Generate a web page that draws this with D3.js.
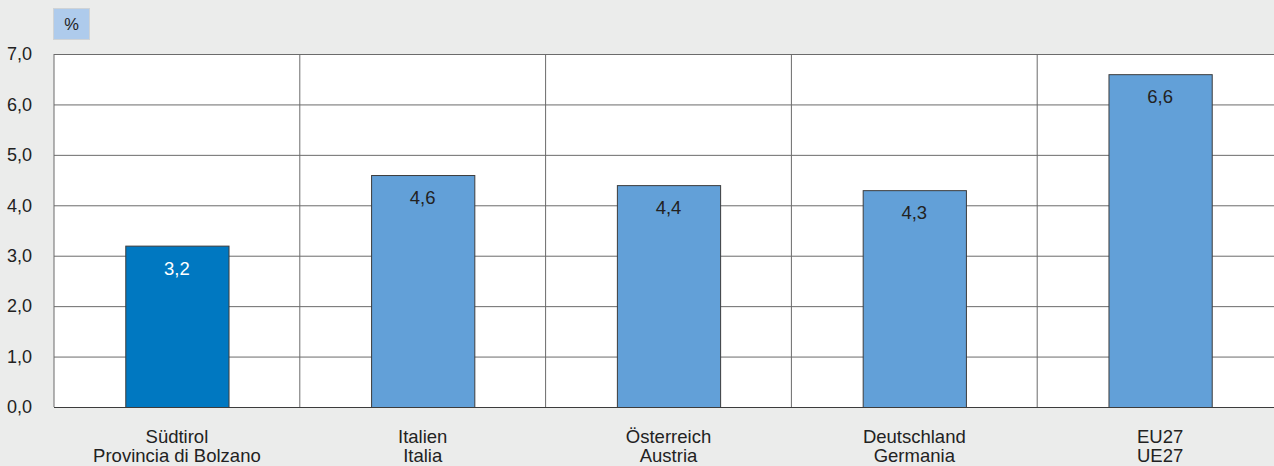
<!DOCTYPE html>
<html>
<head>
<meta charset="utf-8">
<script src="https://cdn.jsdelivr.net/npm/d3@7"></script>
<style>
    body { margin: 0; background: #ebeceb; overflow: hidden; }
    svg { display: block; font-family: "Liberation Sans", Arial, sans-serif; }
    .grid line { stroke: #6b6b6b; stroke-width: 1; }
    .axis text { fill: #222; font-size: 18px; }
</style>
</head>
<body>
<div id="chart"></div>
<script>
let categories = ['Südtirol', 'Italien', 'Österreich', 'Deutschland', 'EU27']
let subLabels = ['Provincia di Bolzano', 'Italia', 'Austria', 'Germania', 'UE27']
let values = [3.2, 4.6, 4.4, 4.3, 6.6]
let yTicks = [0, 1, 2, 3, 4, 5, 6, 7]

let margin = { top: 54, right: -9, bottom: 59, left: 54 }
let width = 1274
let height = 466
let innerW = width - margin.left - margin.right
let innerH = height - margin.top - margin.bottom

let fmt = d => d3.format('.1f')(d).replace('.', ',')

let svg = d3.select('#chart').append('svg')
    .attr('width', width)
    .attr('height', height)

// unit box
svg.append('rect')
    .attr('x', 53.5).attr('y', 8.5).attr('width', 36).attr('height', 31)
    .attr('fill', '#aecbec').attr('stroke', '#cfd3d6')
svg.append('text')
    .attr('x', 71.5).attr('y', 30)
    .attr('text-anchor', 'middle')
    .attr('font-size', 16.5).attr('fill', '#222')
    .text('%')

let g = svg.append('g')
    .attr('transform', 'translate(' + margin.left + ',' + margin.top + ')')

let x = d3.scaleBand()
    .domain(categories)
    .range([0, innerW])
    .paddingInner(0.58)
    .paddingOuter(0.29)

let y = d3.scaleLinear()
    .domain([0, 7])
    .range([innerH, 0])

g.append('rect')
    .attr('width', innerW).attr('height', innerH)
    .attr('fill', '#fff')

// horizontal grid
g.append('g')
    .attr('class', 'grid')
    .call(d3.axisLeft(y).tickValues(yTicks).tickSize(-innerW).tickFormat(''))
    .call(s => s.select('.domain').remove())

// vertical cell borders
g.append('g')
    .attr('class', 'grid')
    .selectAll('line')
    .data(d3.range(categories.length + 1))
    .enter().append('line')
    .attr('x1', i => i * x.step()).attr('x2', i => i * x.step())
    .attr('y1', 0).attr('y2', innerH)

// y labels
g.append('g')
    .attr('class', 'axis')
    .attr('transform', 'translate(-19,0)')
    .call(d3.axisLeft(y).tickValues(yTicks).tickSize(0).tickFormat(fmt))
    .call(s => s.select('.domain').remove())

g.selectAll('.bar')
    .data(values)
    .enter().append('rect')
    .attr('class', 'bar')
    .attr('x', (d, i) => x(categories[i]) + 0.5)
    .attr('y', d => y(d) + 0.5)
    .attr('width', x.bandwidth())
    .attr('height', d => innerH - y(d))
    .attr('fill', (d, i) => i === 0 ? '#0078c1' : '#62a0d8')
    .attr('stroke', '#3c3c3c')
    .attr('stroke-width', 1)

g.selectAll('.val')
    .data(values)
    .enter().append('text')
    .attr('class', 'val')
    .attr('x', (d, i) => x(categories[i]) + x.bandwidth() / 2)
    .attr('y', d => y(d) + 29)
    .attr('text-anchor', 'middle')
    .attr('font-size', 18.5)
    .attr('fill', (d, i) => i === 0 ? '#fff' : '#222')
    .text(fmt)

// bottom axis line
g.append('line')
    .attr('x1', 0).attr('x2', innerW)
    .attr('y1', innerH + 0.5).attr('y2', innerH + 0.5)
    .attr('stroke', '#3c3c3c')

let labels = g.selectAll('.cat')
    .data(categories)
    .enter().append('text')
    .attr('class', 'cat')
    .attr('text-anchor', 'middle')
    .attr('font-size', 18.5)
    .attr('fill', '#222')
    .attr('transform', d => 'translate(' + (x(d) + x.bandwidth() / 2) + ',' + (innerH + 36) + ')')

labels.append('tspan').attr('x', 0).attr('y', 0).text(d => d)
labels.append('tspan').attr('x', 0).attr('y', 19).text((d, i) => subLabels[i])
</script>
</body>
</html>
